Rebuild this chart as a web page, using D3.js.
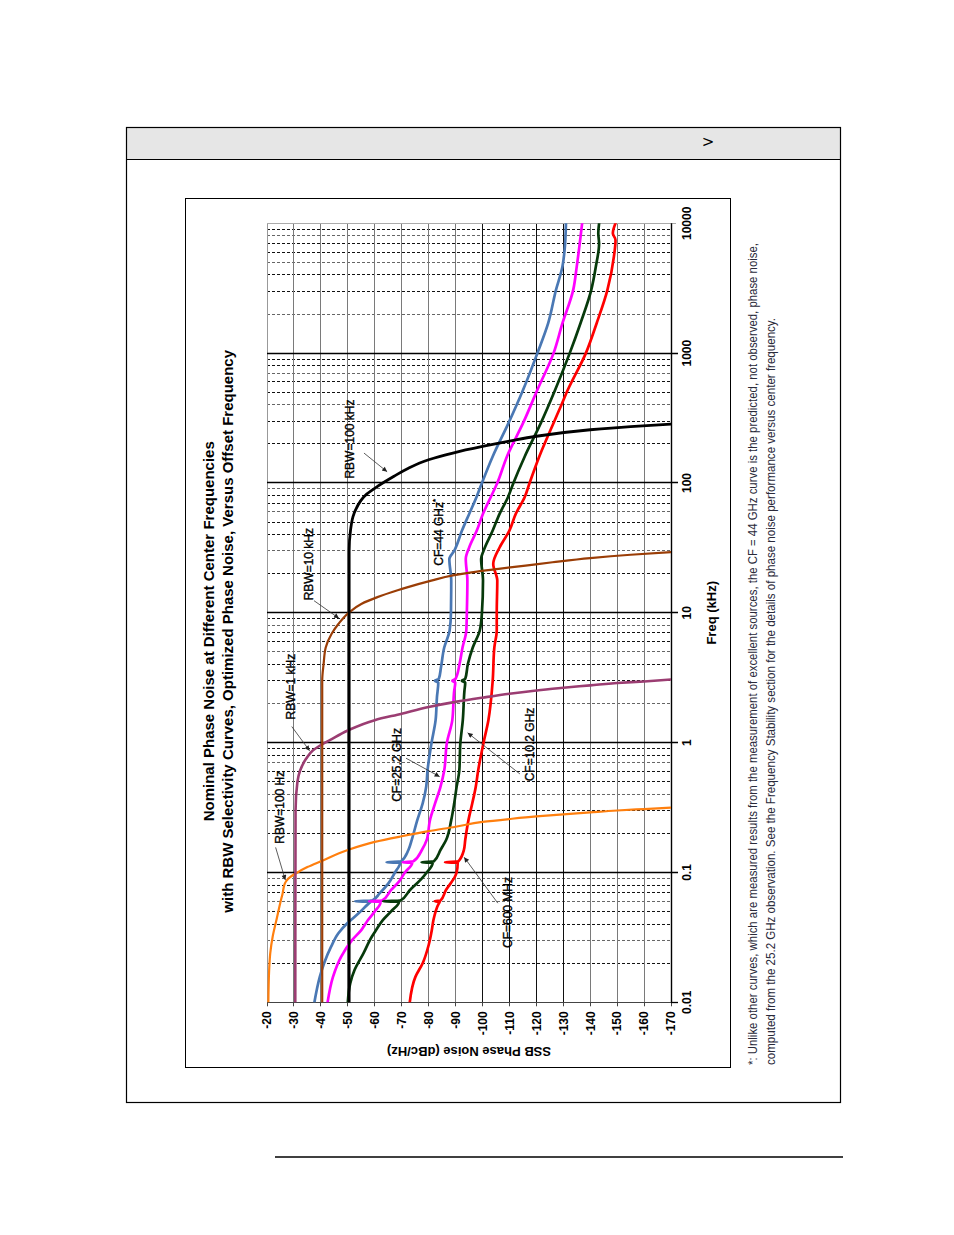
<!DOCTYPE html>
<html><head><meta charset="utf-8">
<script src="https://cdn.jsdelivr.net/npm/d3@7"></script>
<style>body{margin:0;background:#fff}svg{display:block}</style>
</head><body><svg id="c" width="954" height="1235"></svg>
<script>
// ---------- data ----------
const freqTicks = [0.01, 0.1, 1, 10, 100, 1000, 10000];
const freqTickLabels = ["0.01", "0.1", "1", "10", "100", "1000", "10000"];
const dbTicks = [-20, -30, -40, -50, -60, -70, -80, -90, -100, -110, -120, -130, -140, -150, -160, -170];
const dbTickLabels = dbTicks.map(String);

const rbw100Hz = [[0.01,-20.5],[0.0177,-20.8],[0.0238,-21.2],[0.032,-22.1],[0.043,-23.5],[0.058,-24.9],[0.069,-25.8],[0.082,-26.6],[0.09,-28],[0.1,-31.3],[0.11,-35],[0.122,-40],[0.149,-50],[0.172,-60],[0.19,-70],[0.208,-80],[0.225,-90],[0.245,-100],[0.258,-110],[0.27,-120],[0.28,-130],[0.29,-140],[0.3,-150],[0.308,-160],[0.316,-170]];
const rbw1kHz = [[0.01,-30.5],[0.3,-30.6],[0.5,-31.3],[0.61,-32.3],[0.75,-34.5],[0.87,-37],[0.93,-39],[1.05,-43.5],[1.24,-50],[1.49,-60],[1.67,-70],[1.88,-80],[2.06,-90],[2.22,-100],[2.38,-110],[2.52,-120],[2.65,-130],[2.76,-140],[2.88,-150],[2.96,-160],[3.06,-170]];
const rbw10kHz = [[0.01,-40.5],[3,-40.5],[4,-41],[5.4,-41.8],[6.9,-44],[8.2,-46.5],[10,-50.3],[11.7,-55],[13.2,-61],[14.9,-68.5],[15.7,-72],[17.7,-81],[19.4,-89],[20.5,-96],[21.8,-106],[23.1,-116],[24.5,-126],[26.4,-140],[28,-155],[29.3,-170]];
const rbw100kHz = [[0.01,-50.5],[30,-50.5],[43,-51],[58,-52.3],[82,-57],[94,-61],[112,-67],[130,-72.5],[151,-80],[170,-89],[191,-100],[210,-110],[229,-120],[257,-140],[272,-155],[284,-170]];

const cf44GHz = [[0.01,-37.6],[0.0157,-39.6],[0.02,-41.2],[0.0268,-43.8],[0.034,-46.5],[0.0406,-49.8],[0.048,-53.8],[0.0578,-57.8],[0.0593,-58.4],[0.06,-52.7],[0.0607,-59],[0.069,-61.8],[0.082,-65],[0.1,-67.5],[0.1185,-69.4],[0.12,-64.4],[0.1215,-69.7],[0.149,-72.5],[0.18,-73.8],[0.253,-75.8],[0.34,-77.8],[0.456,-79.1],[0.61,-79.6],[1,-81.1],[1.49,-82.6],[2.24,-83.1],[2.9,-83.6],[3,-82.3],[3.1,-83.8],[3.8,-84.6],[5.4,-85.8],[7.3,-87.8],[10,-88.3],[17.7,-88.4],[26,-87.7],[30,-89.5],[43,-92.4],[58,-95.1],[78,-97.8],[100,-99.8],[160,-103.8],[290,-109.7],[522,-115.1],[1000,-120.4],[1700,-124.4],[3070,-127.3],[4640,-129.7],[6240,-130.5],[10000,-131]];
const cf25GHz = [[0.01,-42.5],[0.0157,-44.5],[0.0224,-47.5],[0.03,-51.5],[0.036,-55],[0.043,-57.5],[0.05,-60],[0.0593,-62.2],[0.06,-57.9],[0.0607,-62.7],[0.073,-66],[0.085,-69],[0.1,-71.2],[0.1185,-73.9],[0.12,-70.4],[0.1215,-74.3],[0.149,-77.5],[0.178,-79.3],[0.253,-80.5],[0.34,-82.4],[0.456,-84.4],[0.61,-85.8],[1,-86.8],[1.49,-88.8],[2.5,-89.5],[2.9,-89.9],[3,-88.8],[3.1,-90],[4.05,-91.5],[5.4,-92.6],[7.3,-94],[10,-94.2],[17.7,-94.4],[26,-93.8],[32,-95.1],[43,-97.9],[58,-100.2],[78,-103.1],[100,-105.5],[160,-109.1],[290,-115.1],[522,-120.4],[1000,-126.4],[1700,-129.7],[3070,-133.7],[4640,-135],[10000,-137]];
const cf10GHz = [[0.01,-50],[0.014,-50.9],[0.0177,-52.5],[0.0238,-55.8],[0.032,-58.9],[0.036,-60.5],[0.043,-63],[0.05,-66],[0.0593,-69],[0.06,-63.1],[0.0607,-69.5],[0.073,-73],[0.09,-77.5],[0.1,-79.3],[0.1185,-81.5],[0.12,-77.4],[0.1215,-81.9],[0.149,-84.4],[0.178,-86.5],[0.253,-88.4],[0.34,-89.5],[0.456,-90.4],[0.61,-91.4],[1,-91.8],[1.49,-92.7],[2.5,-93.3],[2.9,-93.6],[3,-92.3],[3.1,-93.6],[4.05,-94.6],[5.4,-96.4],[7.3,-99],[10,-99.8],[17.7,-100.2],[26,-99.5],[30,-100.4],[43,-103.8],[58,-106.4],[78,-109.5],[100,-111.5],[160,-115.7],[290,-121.7],[522,-127],[1000,-132.4],[1700,-136.4],[3070,-140.4],[4640,-142.1],[7000,-143.3],[8380,-143],[10000,-143.3]];
const cf600MHz = [[0.01,-73],[0.0157,-75.1],[0.02,-77.8],[0.028,-80.1],[0.036,-81.2],[0.043,-81.8],[0.0578,-83.8],[0.0593,-84.1],[0.06,-82.3],[0.0607,-84.4],[0.073,-86.4],[0.093,-89.8],[0.1,-90.4],[0.1185,-90.8],[0.12,-86.1],[0.1215,-91],[0.149,-93.1],[0.178,-93.6],[0.253,-94.8],[0.34,-96.2],[0.456,-97.5],[0.61,-98.4],[1,-100.4],[1.49,-102.2],[3,-103.8],[5.4,-104.4],[7.3,-105.3],[10,-105.3],[17.7,-105.5],[23.8,-104],[32,-106.4],[43,-110],[58,-112.4],[78,-115.7],[100,-117.5],[160,-121.1],[290,-126.4],[390,-129.1],[522,-131.7],[1000,-138.4],[1700,-142.4],[3070,-146.4],[5540,-148.8],[7440,-149.4],[8380,-148.4],[10000,-149.4]];

const seriesNames = ["CF=44 GHz*", "CF=25.2 GHz", "CF=10.2 GHz", "CF=600 MHz", "RBW=100 Hz", "RBW=1 kHz", "RBW=10 kHz", "RBW=100 kHz"];
const seriesData = [cf44GHz, cf25GHz, cf10GHz, cf600MHz, rbw100Hz, rbw1kHz, rbw10kHz, rbw100kHz];
const seriesColors = ["#4a78b4", "#ff00ff", "#073a0b", "#ff0000", "#ff7f0e", "#9b3d72", "#9a3d06", "#000000"];
const seriesWidths = [2.7, 2.7, 2.7, 2.7, 2.2, 2.6, 2.2, 2.8];

const annoText = ["RBW=100 Hz", "RBW=1 kHz", "RBW=10 kHz", "RBW=100 kHz", "CF=44 GHz", "CF=25.2 GHz", "CF=10.2 GHz", "CF=600 MHz"];
const annoPos = [[0.318,-26.3],[2.70,-30.4],[23.7,-37.1],[218,-52.3],[41.7,-85.2],[0.673,-69.9],[0.968,-119],[0.0492,-111]];
const annoArrowFrom = [[0.156,-23.2],[1.33,-29.2],[12.4,-37.45],[170,-56],null,[0.759,-71.6],[0.574,-113.9],[0.058,-105.7]];
const annoArrowTo = [[0.0875,-26.8],[0.867,-35.8],[9.08,-46.7],[122,-64.6],null,[0.547,-84.1],[1.19,-94.5],[0.131,-93.2]];

const titleLines = ["Nominal Phase Noise at Different Center Frequencies", "with RBW Selectivity Curves, Optimized Phase Noise, Versus Offset Frequency"];
const xTitle = "Freq (kHz)";
const yTitle = "SSB Phase Noise (dBc/Hz)";
const footLines = ["*: Unlike other curves, which are measured results from the measurement of excellent sources, the CF = 44 GHz curve is the predicted, not observed, phase noise,",
  "computed from the 25.2 GHz observation.  See the Frequency Stability section for the details of phase noise performance versus center frequency."];

// ---------- page ----------
const svg = d3.select("#c");
const font = "'Liberation Sans', Arial, sans-serif";

svg.append("rect").attr("x", 126.5).attr("y", 127.5).attr("width", 714).attr("height", 32).attr("fill", "#e6e6e6");
svg.append("rect").attr("x", 126.5).attr("y", 127.5).attr("width", 714).attr("height", 975).attr("fill", "none").attr("stroke", "#000").attr("stroke-width", 1.2);
svg.append("line").attr("x1", 126.5).attr("x2", 840.5).attr("y1", 159.5).attr("y2", 159.5).attr("stroke", "#000").attr("stroke-width", 1.2);
svg.append("text").attr("x", 708).attr("y", 147).attr("font-family", "'DejaVu Sans', sans-serif").attr("font-size", 15).attr("text-anchor", "middle").text(">");
svg.append("line").attr("x1", 275).attr("x2", 843).attr("y1", 1157).attr("y2", 1157).attr("stroke", "#000").attr("stroke-width", 1.6);

// chart frame
svg.append("rect").attr("x", 185.5).attr("y", 198.5).attr("width", 545).attr("height", 869).attr("fill", "#fff").attr("stroke", "#000").attr("stroke-width", 1);

// ---------- rotated chart ----------
const W = 779, H = 404;
const g = svg.append("g").attr("transform", "translate(267,1002.3) rotate(-90)");
const x = d3.scaleLog().domain([0.01, 10000]).range([0, W]);
const y = d3.scaleLinear().domain([-20, -170]).range([0, H]);
// pixel snapping helpers (page y = 1002.3 - u, page x = 267 + v)
const su = u => Math.round(u - 0.8) + 0.8;
const sv = v => Math.round(v - 0.5) + 0.5;

// minor freq grid (dashed)
const minors = [];
for (let d = 0.01; d < 10000; d *= 10) for (let k = 2; k <= 9; k++) minors.push(d * k);
g.selectAll(".minor").data(minors).enter().append("line")
  .attr("x1", d => su(x(d))).attr("x2", d => su(x(d))).attr("y1", 0).attr("y2", H)
  .attr("stroke", (d, i) => (i % 3 === 1) ? "#666" : "#111").attr("stroke-width", 1).attr("stroke-dasharray", "3,2");
// dB grid
g.selectAll(".dbg").data(dbTicks.slice(1, -1)).enter().append("line")
  .attr("x1", 0).attr("x2", W).attr("y1", d => sv(y(d))).attr("y2", d => sv(y(d)))
  .attr("stroke", d => (d <= -100 && d >= -130) ? "#111" : "#7a7a7a").attr("stroke-width", 1);
// plot borders
g.append("line").attr("x1", 0).attr("x2", W).attr("y1", sv(0)).attr("y2", sv(0)).attr("stroke", "#999").attr("stroke-width", 1);
g.append("line").attr("x1", su(W)).attr("x2", su(W)).attr("y1", 0).attr("y2", H + 5).attr("stroke", "#aaa").attr("stroke-width", 1);
// decade lines
g.selectAll(".dec").data(freqTicks.slice(1, -1)).enter().append("line")
  .attr("x1", d => su(x(d))).attr("x2", d => su(x(d))).attr("y1", 0).attr("y2", H + 7)
  .attr("stroke", "#000").attr("stroke-width", 1.4);
// axes
g.append("line").attr("x1", 0).attr("x2", W).attr("y1", sv(H)).attr("y2", sv(H)).attr("stroke", "#000").attr("stroke-width", 1.4);
g.append("line").attr("x1", su(0)).attr("x2", su(0)).attr("y1", 0).attr("y2", H).attr("stroke", "#444").attr("stroke-width", 1.2);
g.selectAll(".ytk").data(dbTicks).enter().append("line")
  .attr("x1", -4).attr("x2", 0).attr("y1", d => sv(y(d))).attr("y2", d => sv(y(d))).attr("stroke", "#444");
g.append("line").attr("x1", su(0)).attr("x2", su(0)).attr("y1", H).attr("y2", H + 7).attr("stroke", "#000").attr("stroke-width", 1.3);

// tick labels
g.selectAll(".ytl").data(dbTicks).enter().append("text")
  .attr("x", -9).attr("y", d => y(d)).attr("dy", "0.36em").attr("text-anchor", "end")
  .attr("font-family", font).attr("font-size", 12).attr("font-weight", "bold")
  .text((d, i) => dbTickLabels[i]);
g.selectAll(".xtl").data(freqTicks).enter().append("text")
  .attr("x", d => x(d)).attr("y", H + 20).attr("text-anchor", "middle")
  .attr("font-family", font).attr("font-size", 12).attr("font-weight", "bold")
  .text((d, i) => freqTickLabels[i]);

// axis titles
g.append("text").attr("x", W / 2).attr("y", H + 45).attr("text-anchor", "middle")
  .attr("font-family", font).attr("font-size", 13).attr("font-weight", "bold").text(xTitle);
g.append("text").attr("transform", `translate(-45,${H / 2}) rotate(-90)`).attr("text-anchor", "middle")
  .attr("font-family", font).attr("font-size", 13).attr("font-weight", "bold").text(yTitle);

// title
titleLines.forEach((t, i) => {
  g.append("text").attr("x", 371).attr("y", -53 + i * 19).attr("text-anchor", "middle")
    .attr("font-family", font).attr("font-size", 15).attr("font-weight", "bold").text(t);
});

// curves
const line = d3.line().x(d => x(d[0])).y(d => y(d[1])).curve(d3.curveMonotoneX);
g.append("clipPath").attr("id", "pc").append("rect").attr("x", 0).attr("y", -2).attr("width", W).attr("height", H + 2);
const curves = g.append("g").attr("clip-path", "url(#pc)");
seriesData.forEach((s, i) => {
  curves.append("path").datum(s).attr("d", line).attr("fill", "none")
    .attr("stroke", seriesColors[i]).attr("stroke-width", seriesWidths[i])
    .attr("stroke-linejoin", "round").attr("stroke-linecap", "round");
});

// annotations
svg.append("defs").append("marker").attr("id", "ah").attr("viewBox", "0 0 10 10").attr("refX", 10).attr("refY", 5)
  .attr("markerWidth", 7).attr("markerHeight", 5).attr("markerUnits", "userSpaceOnUse").attr("orient", "auto")
  .append("path").attr("d", "M0,0 L10,5 L0,10 z").attr("fill", "#222");
annoText.forEach((t, i) => {
  const tx = g.append("text").attr("x", x(annoPos[i][0])).attr("y", y(annoPos[i][1])).attr("text-anchor", "middle")
    .attr("font-family", font).attr("font-size", 12).attr("fill", "#000")
    .attr("stroke", "#000").attr("stroke-width", 0.35).text(t);
  if (i === 4) tx.append("tspan").attr("font-size", 8).attr("dy", -5).text("*");
  if (annoArrowFrom[i]) {
    g.append("line").attr("x1", x(annoArrowFrom[i][0])).attr("y1", y(annoArrowFrom[i][1]))
      .attr("x2", x(annoArrowTo[i][0])).attr("y2", y(annoArrowTo[i][1]))
      .attr("stroke", "#333").attr("stroke-width", 0.8).attr("marker-end", "url(#ah)");
  }
});

// footnote
const footLens = [822, 747];
footLines.forEach((t, i) => {
  svg.append("text").attr("transform", `translate(${757 + i * 18},1065) rotate(-90)`)
    .attr("font-family", "'Liberation Sans Narrow', 'Arial Narrow', 'Liberation Sans', sans-serif")
    .attr("font-size", 12).attr("fill", "#2a2a3a")
    .attr("textLength", footLens[i]).attr("lengthAdjust", "spacingAndGlyphs")
    .text(t);
});
</script></body></html>
